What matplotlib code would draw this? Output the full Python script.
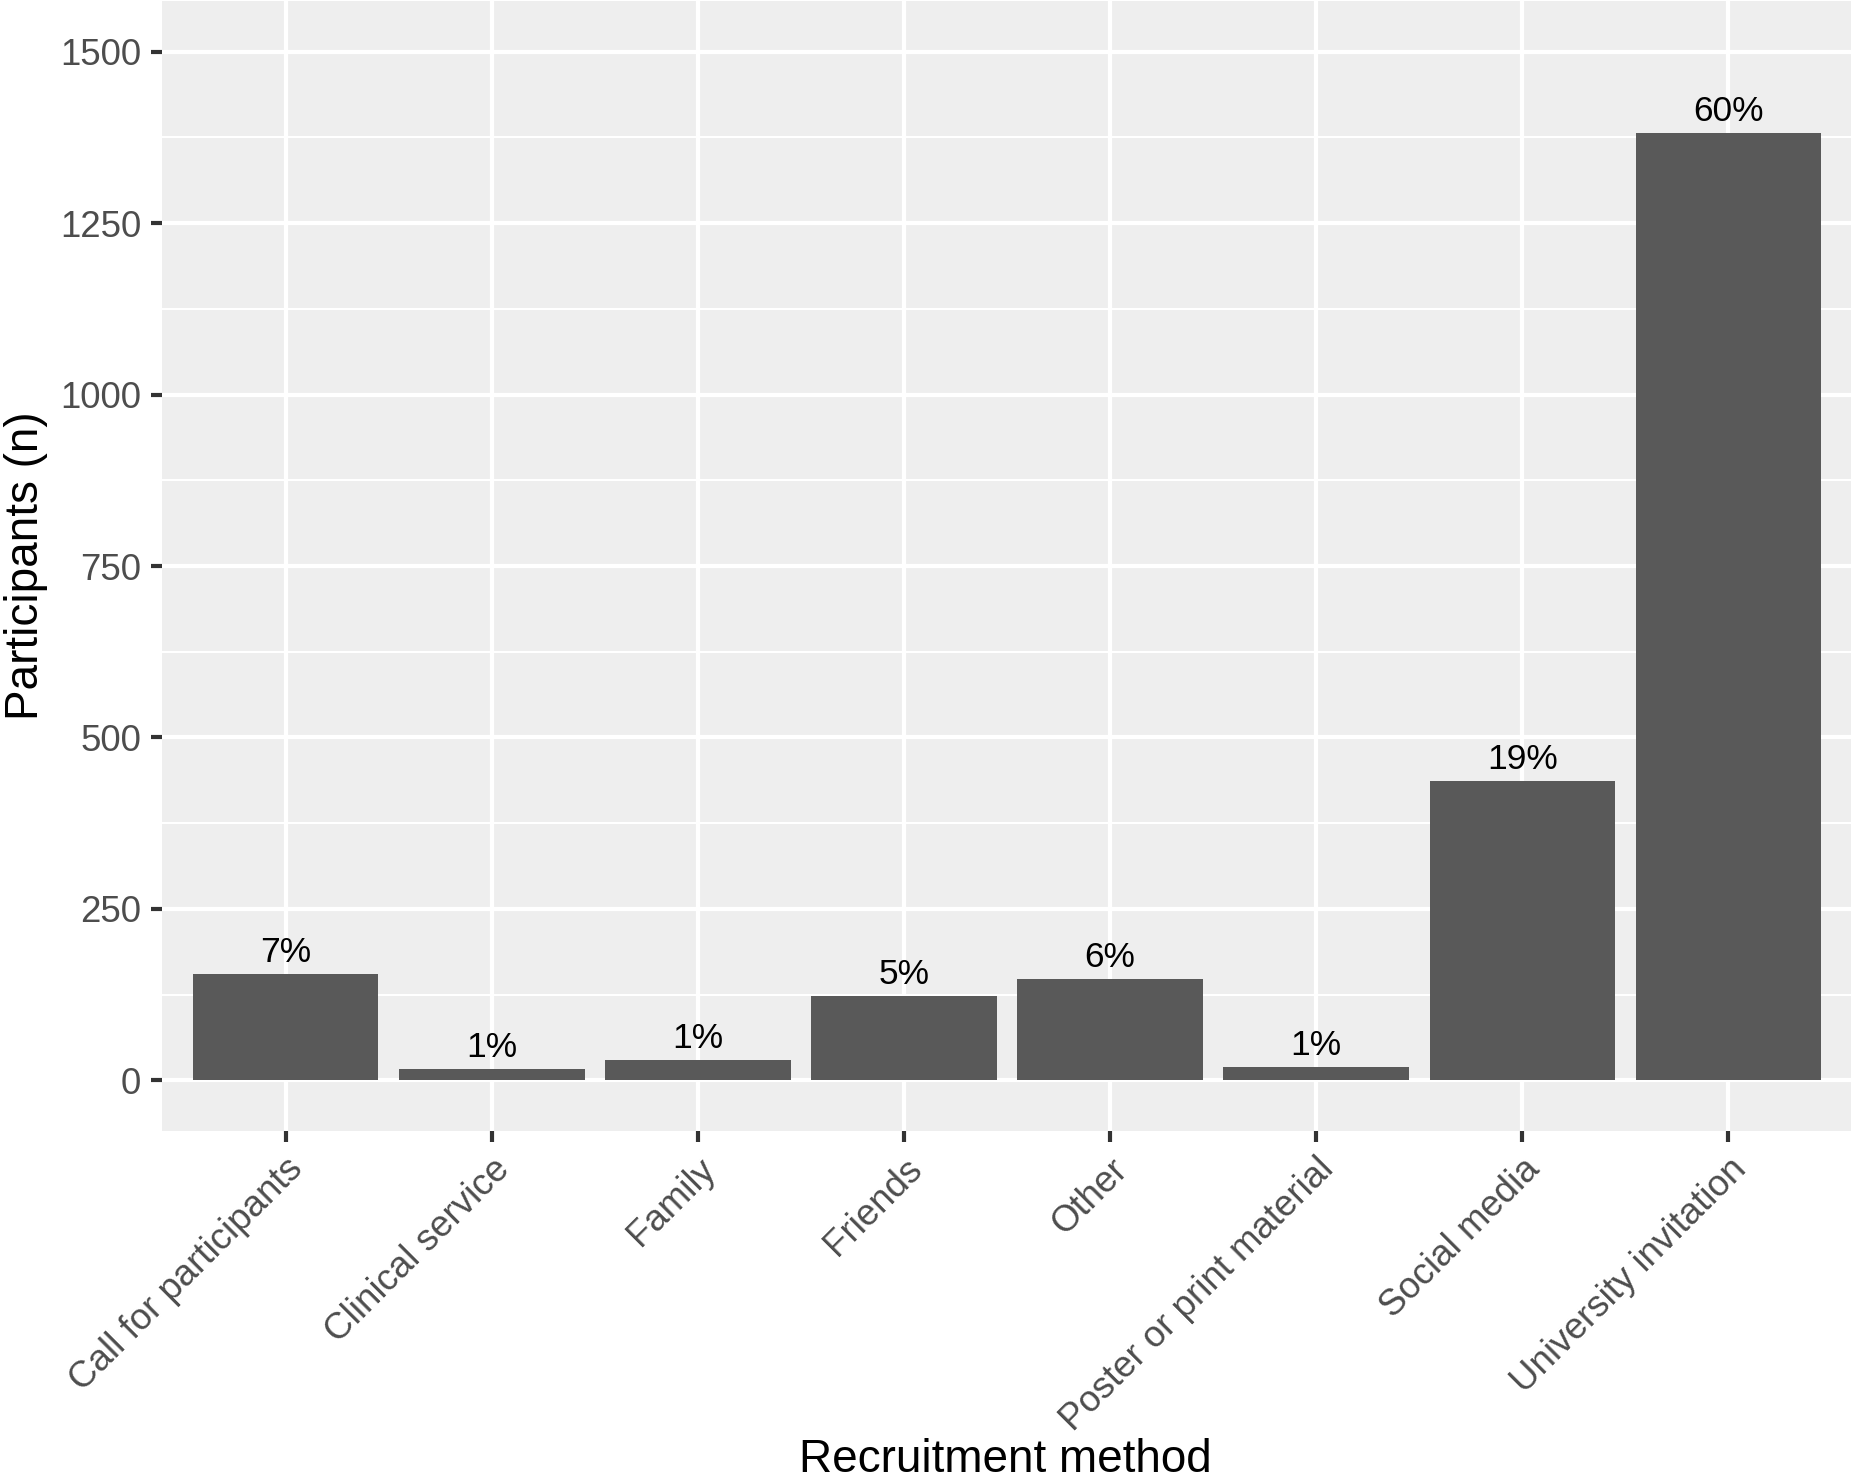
import numpy as np
import matplotlib
matplotlib.use("Agg")
import matplotlib.pyplot as plt
from matplotlib.ticker import MultipleLocator

plt.rcParams['font.family'] = ['Liberation Sans', 'DejaVu Sans']

# data
methods = ["Call for participants", "Clinical service", "Family", "Friends",
           "Other", "Poster or print material", "Social media", "University invitation"]
participants = [155, 16, 29, 123, 148, 19, 437, 1381]
pct_labels = ["7%", "1%", "1%", "5%", "6%", "1%", "19%", "60%"]
y_ticks = [0, 250, 500, 750, 1000, 1250, 1500]

W, H = 1852, 1483
fig = plt.figure(figsize=(W / 300, H / 300), dpi=300)
ax = fig.add_axes([162 / W, 1 - 1131 / H, 1 - 162 / W, 1130 / H])

# ggplot-ish grey theme
ax.set_facecolor("#EEEEEE")
for s in ax.spines.values():
    s.set_visible(False)
ax.set_axisbelow(True)
ax.yaxis.set_minor_locator(MultipleLocator(125))
ax.grid(which="major", color="white", linewidth=1.0)
ax.grid(which="minor", axis="y", color="white", linewidth=0.5)

x = np.arange(len(methods))
ax.bar(x, participants, width=0.9, color="#595959")

for xi, v, lab in zip(x, participants, pct_labels):
    ax.annotate(lab, (xi, v), xytext=(0, 2.9), textcoords="offset points",
                ha="center", va="baseline", fontsize=8.5, color="black")

ax.set_xlim(-0.6, len(methods) - 0.4)
ax.set_ylim(-74, 1574)
ax.set_yticks(y_ticks)
ax.set_xticks(x)
ax.set_xticklabels(methods, rotation=45, ha="right", va="top", rotation_mode="anchor")

ax.tick_params(which="major", length=2.75, width=1.0, color="#333333",
               labelsize=8.8, labelcolor="#4D4D4D", pad=2.2)
ax.tick_params(which="minor", length=0)

# axis titles placed like the ggplot original
fig.text(1005 / W, 1 - 1472 / H, "Recruitment method", fontsize=11,
         ha="center", va="baseline")
fig.text(38 / W, 1 - 566 / H, "Participants (n)", fontsize=11, rotation=90,
         rotation_mode="anchor", ha="center", va="baseline")

fig.savefig("out.png", dpi=300)
